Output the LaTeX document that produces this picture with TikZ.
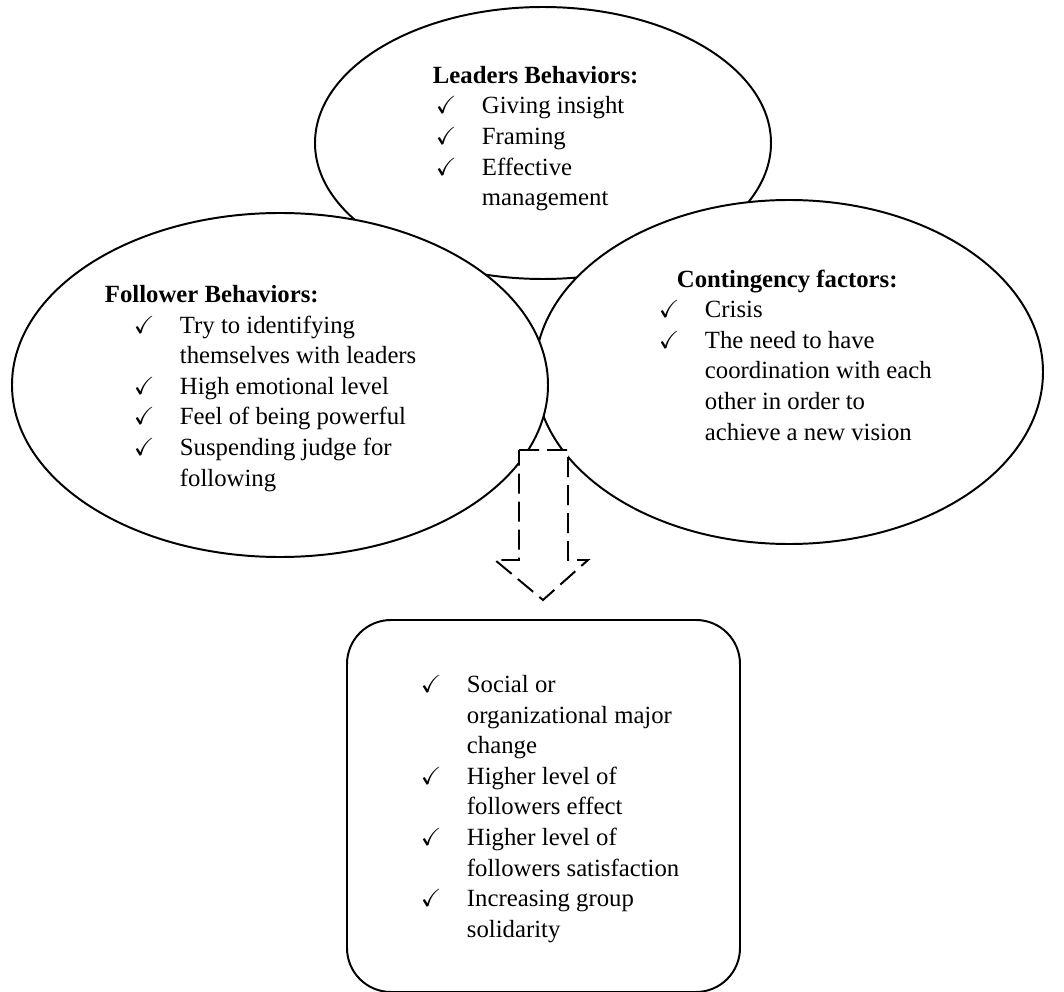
\documentclass[tikz,border=0pt]{standalone}
\usepackage{fontspec}
\setmainfont{Liberation Serif}
\usepackage{amssymb}
\usepackage{tikz}
\usetikzlibrary{shapes.geometric}
\usetikzlibrary{arrows,shapes}

\newcommand{\okmark}{\makebox[1.15cm][l]{$\checkmark$}}
\newcommand{\okskip}{\hspace*{1.15cm}}

\begin{document}
\begin{tikzpicture}[line width=1.4pt,
    oval/.style={ellipse, draw, fill=white, inner sep=0pt},
    txt/.style={anchor=base west, align=left, inner sep=0pt,
        font=\fontsize{17.6}{21.75}\selectfont}]
\useasboundingbox (0,0) rectangle (26.6,-24.8);

\node[oval, minimum width = 11.4cm, minimum height = 6.8cm] (l1) at (13.575,-3.575) {};
\node[oval, minimum width = 12.7cm, minimum height = 8.6cm] (c1) at (19.725,-9.3) {};
\node[oval, minimum width = 13.4cm, minimum height = 8.6cm] (f1) at (7.0,-9.625) {};

\draw[dash pattern=on 0.5cm off 0.2cm, fill=white] (12.975,-11.25) -- (14.2,-11.25) -- (14.2,-14.0)
    -- (14.7,-14.0) -- (13.575,-15.0) -- (12.375,-14.0) -- (12.975,-14.0) -- cycle;

\draw[rounded corners=1.1cm] (8.675,-24.8) rectangle (18.5,-15.5);

% base anchor sits on the last line
\node[txt] (l2) at (10.8,-5.14) {\textbf{Leaders Behaviors:}\\
    \hspace*{0.075cm}\okmark Giving insight\\
    \hspace*{0.075cm}\okmark Framing\\
    \hspace*{0.075cm}\okmark Effective\\
    \hspace*{0.075cm}\okskip management};

\node[txt] (f2) at (2.6,-12.15) {\textbf{Follower Behaviors:}\\
    \hspace*{0.725cm}\okmark Try to identifying\\
    \hspace*{0.725cm}\okskip themselves with leaders\\
    \hspace*{0.725cm}\okmark High emotional level\\
    \hspace*{0.725cm}\okmark Feel of being powerful\\
    \hspace*{0.725cm}\okmark Suspending judge for\\
    \hspace*{0.725cm}\okskip following};

\node[txt] (c2) at (16.45,-11.0) {\hspace*{0.45cm}\textbf{Contingency factors:}\\
    \okmark Crisis\\
    \okmark The need to have\\
    \okskip coordination with each\\
    \okskip other in order to\\
    \okskip achieve a new vision};

\node[txt] (o2) at (10.5,-23.43) {\okmark Social or\\
    \okskip organizational major\\
    \okskip change\\
    \okmark Higher level of\\
    \okskip followers effect\\
    \okmark Higher level of\\
    \okskip followers satisfaction\\
    \okmark Increasing group\\
    \okskip solidarity};
\end{tikzpicture}
\end{document}
